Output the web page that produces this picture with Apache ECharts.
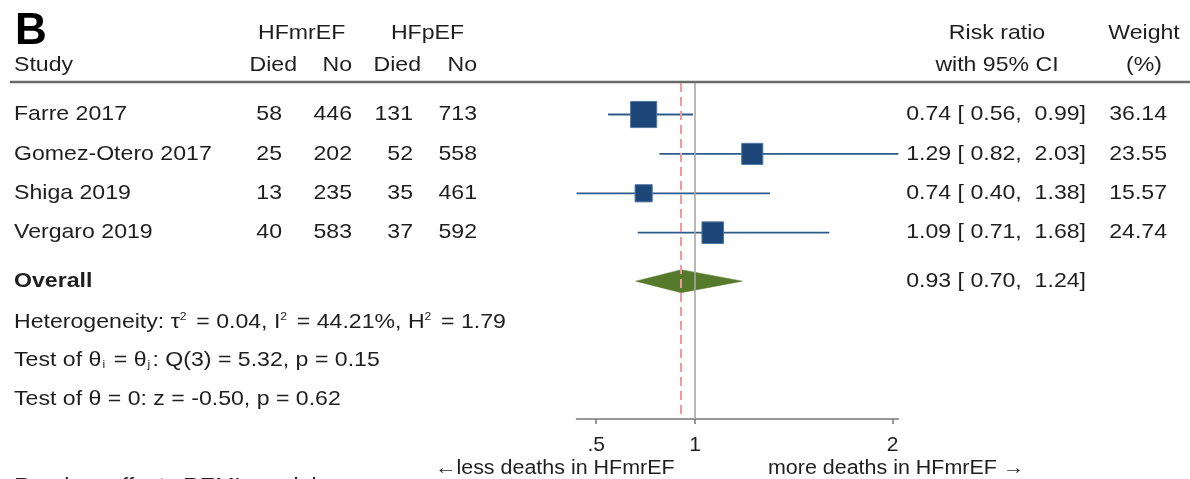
<!DOCTYPE html>
<html>
<head>
<meta charset="utf-8">
<script src="https://cdn.jsdelivr.net/npm/echarts@6/dist/echarts.min.js"></script>
<style>html,body{margin:0;padding:0;background:#fff;}#c{width:1190px;height:479px;}</style>
</head>
<body>
<div id="c"></div>
<script>
// ---- data ----
const studies = ['Farre 2017', 'Gomez-Otero 2017', 'Shiga 2019', 'Vergaro 2019'];
const hfmrefDied = [58, 25, 13, 40];
const hfmrefNo = [446, 202, 235, 583];
const hfpefDied = [131, 52, 35, 37];
const hfpefNo = [713, 558, 461, 592];
const riskRatio = [0.74, 1.29, 0.74, 1.09];
const ciLow = [0.56, 0.82, 0.40, 0.71];
const ciHigh = [0.99, 2.03, 1.38, 1.68];
const weights = [36.14, 23.55, 15.57, 24.74];
const overallRR = 0.93, overallLow = 0.70, overallHigh = 1.24;
const nullValue = 1;
const tickValues = [0.5, 1, 2];
const tickLabels = ['.5', '1', '2'];
const statLines = [
  'Heterogeneity: τ{sup|2} = 0.04, I{sup|2} = 44.21%, H{sup|2} = 1.79',
  'Test of θ{sub|i} = θ{sub|j}: Q(3) = 5.32, p = 0.15',
  'Test of θ = 0: z = -0.50, p = 0.62'
];

// ---- layout ----
const FONT = '"Liberation Sans", Arial, Helvetica, sans-serif';
const SX = 1.1;
const FS = 21;
const TXT = '#1e1e1e';
const rows = studies.map((_, i) => i + 1);
const overallRow = studies.length + 1.23;

const chart = echarts.init(document.getElementById('c'), null, {renderer: 'canvas'});

chart.setOption({
  animation: false,
  backgroundColor: '#fff',
  grid: {left: 576.5, right: 291.6, top: 83, bottom: 60, containLabel: false},
  xAxis: {
    type: 'value', min: 0.4, max: 2.03,
    splitLine: {show: false},
    axisLine: {show: true, lineStyle: {color: '#777', width: 1.6}},
    axisTick: {show: true, customValues: tickValues, length: 5, lineStyle: {color: '#777', width: 1.5}},
    axisLabel: {
      show: true, customValues: tickValues, margin: 16,
      formatter: v => tickLabels[tickValues.indexOf(v)] ?? '',
      color: TXT, fontSize: FS, fontFamily: FONT
    }
  },
  yAxis: {type: 'value', inverse: true, min: 0.2, max: 8.73, show: false},
  series: [
    {
      type: 'custom', clip: false, silent: true,
      encode: {x: [0, 1, 2], y: 4},
      data: studies.map((s, i) => [riskRatio[i], ciLow[i], ciHigh[i], weights[i], rows[i]]),
      renderItem: function (params, api) {
        const row = api.value(4);
        const c = api.coord([api.value(0), row]);
        const l = api.coord([api.value(1), row]);
        const h = api.coord([api.value(2), row]);
        const s = 4.35 * Math.sqrt(api.value(3));
        return {
          type: 'group', children: [
            {type: 'line', shape: {x1: l[0], y1: c[1], x2: h[0], y2: c[1]}, style: {stroke: '#2d5b8a', lineWidth: 1.8}},
            {type: 'rect', shape: {x: c[0] - s / 2, y: c[1] - s / 2, width: s, height: s}, style: {fill: '#1b4677', stroke: '#4f77a3', lineWidth: 1}}
          ]
        };
      },
      markLine: {
        silent: true, symbol: 'none', label: {show: false},
        data: [
          {xAxis: nullValue, lineStyle: {color: '#a8a8a8', width: 1.6, type: 'solid'}},
          {xAxis: overallRR, lineStyle: {color: '#f29a9a', width: 2, type: [9, 5]}}
        ]
      }
    },
    {
      type: 'custom', clip: false, silent: true,
      encode: {x: [0, 1, 2], y: 3},
      data: [[overallRR, overallLow, overallHigh, overallRow]],
      renderItem: function (params, api) {
        const row = api.value(3);
        const c = api.coord([api.value(0), row]);
        const l = api.coord([api.value(1), row]);
        const h = api.coord([api.value(2), row]);
        const hh = 11.5;
        return {
          type: 'polygon',
          shape: {points: [[l[0], c[1]], [c[0], c[1] - hh], [h[0], c[1]], [c[0], c[1] + hh]]},
          style: {fill: '#557a2c', stroke: '#557a2c', lineWidth: 0.5}
        };
      }
    }
  ]
});

function txt(x, y, text, align, extra) {
  return {
    type: 'text', x: x, y: y, scaleX: SX, silent: true,
    style: Object.assign({
      text: text, fill: TXT, fontSize: FS, fontFamily: FONT,
      align: align || 'left', verticalAlign: 'middle',
      rich: {
        sup: {fontSize: 11, fontFamily: FONT, fill: TXT, verticalAlign: 'top', lineHeight: 22, padding: [0, 3, 0, 0]},
        sub: {fontSize: 11, fontFamily: FONT, fill: TXT, verticalAlign: 'bottom', lineHeight: 16, padding: [0, 2, 0, 1]}
      }
    }, extra || {})
  };
}

const yOf = r => chart.convertToPixel({gridIndex: 0}, [1, r])[1];
const els = [];
// header
els.push({type: 'text', x: 15, y: 32, silent: true, style: {text: 'B', fill: '#000', fontSize: 44, fontWeight: 'bold', fontFamily: FONT, align: 'left', verticalAlign: 'middle'}});
els.push(txt(301.7, 33, 'HFmrEF', 'center'));
els.push(txt(427.5, 33, 'HFpEF', 'center'));
els.push(txt(14, 65, 'Study', 'left'));
els.push(txt(297, 65, 'Died', 'right'));
els.push(txt(352, 65, 'No', 'right'));
els.push(txt(421, 65, 'Died', 'right'));
els.push(txt(477, 65, 'No', 'right'));
els.push(txt(997, 33, 'Risk ratio', 'center'));
els.push(txt(997, 65, 'with 95% CI', 'center'));
els.push(txt(1144, 33, 'Weight', 'center'));
els.push(txt(1144, 65, '(%)', 'center'));
els.push({type: 'line', silent: true, shape: {x1: 10, y1: 82, x2: 1190, y2: 82}, style: {stroke: '#6a6a6a', lineWidth: 2.6}});

const pad5 = v => (v < 10 ? ' ' : '') + v.toFixed(2);
studies.forEach((s, i) => {
  const y = yOf(rows[i]);
  els.push(txt(14, y, s, 'left'));
  els.push(txt(282, y, String(hfmrefDied[i]), 'right'));
  els.push(txt(352, y, String(hfmrefNo[i]), 'right'));
  els.push(txt(413, y, String(hfpefDied[i]), 'right'));
  els.push(txt(477, y, String(hfpefNo[i]), 'right'));
  els.push(txt(1086, y, riskRatio[i].toFixed(2) + ' [' + pad5(ciLow[i]) + ', ' + pad5(ciHigh[i]) + ']', 'right'));
  els.push(txt(1167, y, weights[i].toFixed(2), 'right'));
});
const yo = yOf(overallRow);
els.push(txt(14, yo, 'Overall', 'left', {fontWeight: 'bold'}));
els.push(txt(1086, yo, overallRR.toFixed(2) + ' [' + pad5(overallLow) + ', ' + pad5(overallHigh) + ']', 'right'));
const statY = [322, 360, 399];
statLines.forEach((t, i) => els.push(txt(14, statY[i], t, 'left')));
els.push(txt(435, 469, '←less deaths in HFmrEF', 'left', {fontSize: 19.5}));
els.push(txt(768, 469, 'more deaths in HFmrEF →', 'left', {fontSize: 19.5}));
els.push(txt(14, 486, 'Random-effects REML model', 'left'));

chart.setOption({graphic: {elements: els}});
</script>
</body>
</html>
